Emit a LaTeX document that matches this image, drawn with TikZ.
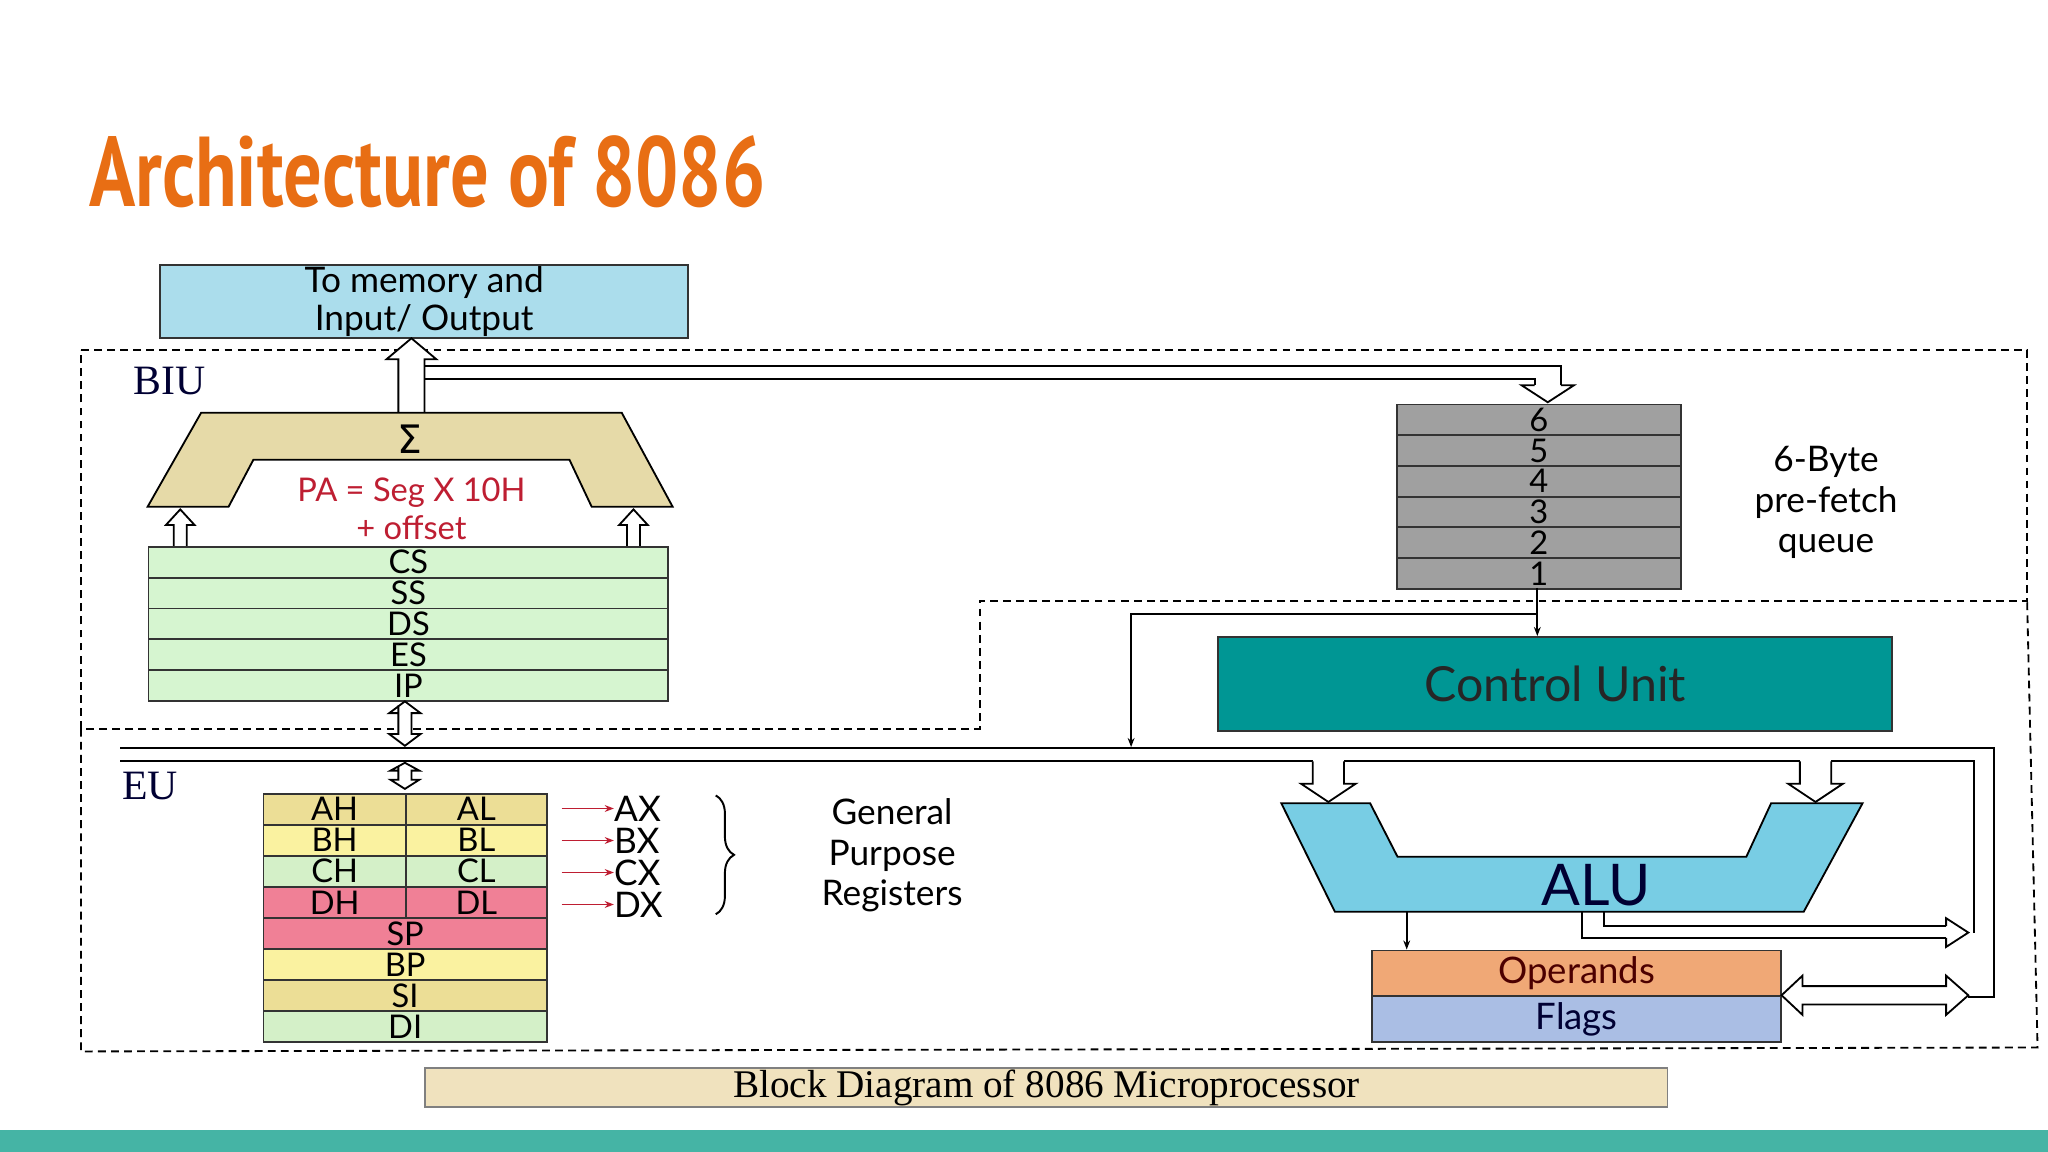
\documentclass[tikz,border=0pt]{standalone}
\usepackage{fontspec}
\setmainfont{Lato}
\newfontfamily\ptb{PT Sans}
\newfontfamily\srf{Liberation Serif}
\newfontfamily\djvfont{DejaVu Sans}
\usetikzlibrary{decorations.pathreplacing,arrows.meta}
\definecolor{ttl}{RGB}{232,110,20}
\definecolor{memc}{RGB}{171,221,236}
\definecolor{sig}{RGB}{230,218,168}
\definecolor{seg}{RGB}{214,245,208}
\definecolor{que}{RGB}{160,160,160}
\definecolor{cu}{RGB}{0,150,148}
\definecolor{alu}{RGB}{120,205,228}
\definecolor{opc}{RGB}{240,168,118}
\definecolor{flc}{RGB}{170,190,228}
\definecolor{rtan}{RGB}{236,222,150}
\definecolor{ryel}{RGB}{250,242,160}
\definecolor{rgrn}{RGB}{212,240,200}
\definecolor{rpnk}{RGB}{240,128,150}
\definecolor{pa}{RGB}{190,30,50}
\definecolor{cap}{RGB}{240,226,190}
\definecolor{bar}{RGB}{69,180,165}
\tikzset{
 box/.style={draw=black!80,line width=1.4pt,inner sep=0pt,anchor=north west},
 lbl/.style={font=\fontsize{25}{25}\selectfont,inner sep=0pt},
 hol/.style={draw=black,fill=white,line width=1.4pt,line join=miter},
 dsh/.style={dashed,line width=1.4pt,dash pattern=on 6pt off 4pt},
 ln/.style={line width=1.5pt}
}
\begin{document}
\begin{tikzpicture}[x=1pt,y=-1pt]
\useasboundingbox (0,0) rectangle (1568,882);
\fill[bar] (0,865) rectangle (1568,882);
\node[anchor=base west,inner sep=0pt,text=ttl] (title) at (68,158) {\scalebox{0.77}[1]{\ptb\bfseries\fontsize{76}{76}\selectfont Architecture of 8086}};
% dashed regions
\draw[dsh] (62,268) -- (1552,268) -- (1552,460) -- (750,460) -- (750,558) -- (62,558) -- cycle;
\draw[dsh] (62,558) -- (62,805) -- (1560,802) -- (1552,460);
\node[font=\srf\fontsize{32}{32}\selectfont,text=black!80!blue] (biu) at (130,292) {BIU};
\node[font=\srf\fontsize{32}{32}\selectfont,text=black!80!blue] (eu) at (115,602) {EU};
% memory
\node[box,fill=memc,minimum width=404pt,minimum height=56pt,align=center,font=\fontsize{27}{29}\selectfont] (mem) at (122,202) {To memory and\\Input/ Output};
% BIU bus
\draw[hol] (305,316) -- (305,275) -- (296,275) -- (315,259) -- (334,275) -- (325,275) -- (325,316);
\draw[ln] (325,280) -- (1195,280) -- (1195,295);
\draw[ln] (325,290) -- (1175,290) -- (1175,295);
\draw[hol] (1175,295) -- (1165,295) -- (1185,308) -- (1205,295) -- (1195,295);
% sigma
\draw[fill=sig,line width=1.4pt] (154,316) -- (476,316) -- (515,388) -- (453,388) -- (436,352) -- (194,352) -- (175,388) -- (113,388) -- cycle;
\node[font=\djvfont\fontsize{30}{30}\selectfont] (sigma) at (314,336) {Σ};
\node[text=pa,font=\fontsize{25}{25}\selectfont] (pa) at (315,377) {PA = Seg X 10H};
\node[text=pa,font=\fontsize{25}{25}\selectfont] (off) at (315,404) {+ offset};
\draw[hol] (133,418) -- (133,402) -- (127,402) -- (138,390) -- (149,402) -- (143,402) -- (143,418);
\draw[hol] (480,418) -- (480,402) -- (474,402) -- (485,390) -- (496,402) -- (490,402) -- (490,418);
% segment registers
\foreach \t [count=\i from 0] in {CS,SS,DS,ES,IP}{
 \node[box,fill=seg,minimum width=398pt,minimum height=23.6pt,lbl] (s\i) at (113,418+23.6*\i) {\t};
}
\draw[hol] (305,540) -- (305,546) -- (298,546) -- (310,537) -- (322,546) -- (315,546) -- (315,562) -- (322,562) -- (310,571) -- (298,562) -- (305,562) -- (305,546);
% EU bus
\draw[ln] (92,573) -- (1527,573) -- (1527,763) -- (1507,763);
\draw[ln] (92,583) -- (1005,583);
\draw[ln] (1029,583) -- (1378,583);
\draw[ln] (1402,583) -- (1511,583) -- (1511,714);
\draw[hol] (1005,583) -- (1005,600) -- (996,600) -- (1017,614) -- (1038,600) -- (1029,600) -- (1029,583);
\draw[hol] (1378,583) -- (1378,600) -- (1369,600) -- (1390,614) -- (1411,600) -- (1402,600) -- (1402,583);
\draw[hol] (305,587) -- (305,590) -- (299,590) -- (310,584) -- (321,590) -- (315,590) -- (315,597) -- (321,597) -- (310,604) -- (299,597) -- (305,597) -- cycle;
% queue
\foreach \t [count=\i from 0] in {6,5,4,3,2,1}{
 \node[box,fill=que,minimum width=217pt,minimum height=23.5pt,lbl] (q\i) at (1069,309+23.5*\i) {\t};
}
\node[align=center,font=\fontsize{27}{31}\selectfont] (qlab) at (1398,385) {6-Byte\\pre-fetch\\queue};
% control unit
\node[box,fill=cu,minimum width=516pt,minimum height=72pt,font=\fontsize{37}{37}\selectfont,text=black!85] (cu) at (932,487) {Control Unit};
\coordinate (qout) at (1177,450);
\draw[ln,-{Stealth[length=7pt]}] (qout) -- (qout |- cu.north);
\draw[ln,-{Stealth[length=7pt]}] (1177,470) -- (866,470) -- (866,572);
% ALU
\draw[fill=alu,line width=1.4pt] (981,615) -- (1049,615) -- (1070,656) -- (1337,656) -- (1356,615) -- (1426,615) -- (1381,698) -- (1022,698) -- cycle;
\node[font=\fontsize{44}{44}\selectfont,text=black!80!blue] (alutxt) at (1222,678) {ALU};
% operands / flags
\node[box,fill=opc,minimum width=313pt,minimum height=35pt,font=\fontsize{28}{28}\selectfont,text=black!70!red] (op) at (1050,727) {Operands};
\node[box,fill=flc,minimum width=313pt,minimum height=35pt,font=\fontsize{28}{28}\selectfont,text=black!80!blue] (fl) at (1050,762) {Flags};
\draw[ln,-{Stealth[length=7pt]}] (1077,698) -- (1077,727);
\draw[ln] (1211,698) -- (1211,718) -- (1490,718);
\draw[ln] (1228,698) -- (1228,709) -- (1490,709);
\draw[hol] (1490,709) -- (1490,703) -- (1507,714) -- (1490,725) -- (1490,718);
\draw[hol] (1380,755) -- (1490,755) -- (1490,747) -- (1507,762) -- (1490,777) -- (1490,769) -- (1380,769) -- (1380,777) -- (1364,762) -- (1380,747) -- cycle;
% general purpose registers
\def\rh{23.75}
\foreach \a/\b/\c [count=\i from 0] in {AH/AL/rtan,BH/BL/ryel,CH/CL/rgrn,DH/DL/rpnk}{
 \node[box,fill=\c,minimum width=109pt,minimum height=\rh pt,lbl] (h\i) at (201,607+\rh*\i) {\a};
 \node[box,fill=\c,minimum width=108pt,minimum height=\rh pt,lbl] (l\i) at (310,607+\rh*\i) {\b};
}
\foreach \t/\c [count=\i from 4] in {SP/rpnk,BP/ryel,SI/rtan,DI/rgrn}{
 \node[box,fill=\c,minimum width=217pt,minimum height=\rh pt,lbl] (r\i) at (201,607+\rh*\i) {\t};
}
\foreach \t [count=\i from 0] in {AX,BX,CX,DX}{
 \node[lbl,font=\fontsize{27}{27}\selectfont,anchor=west] (x\i) at (470,619+24.5*\i) {\t};
 \draw[line width=1.5pt,draw=pa,-{Stealth[length=7pt]}] (430,619+24.5*\i) -- (x\i.west);
}
\draw[line width=1.5pt,decorate,decoration={brace,amplitude=14pt}] (548,609) -- (548,700);
\node[align=center,font=\fontsize{27}{31}\selectfont] (gpr) at (683,655) {General\\Purpose\\Registers};
% caption
\node[box,draw=black!50,fill=cap,minimum width=951pt,minimum height=30pt,font=\srf\fontsize{30}{30}\selectfont] (capt) at (325,817) {Block Diagram of 8086 Microprocessor};
\end{tikzpicture}
\end{document}
